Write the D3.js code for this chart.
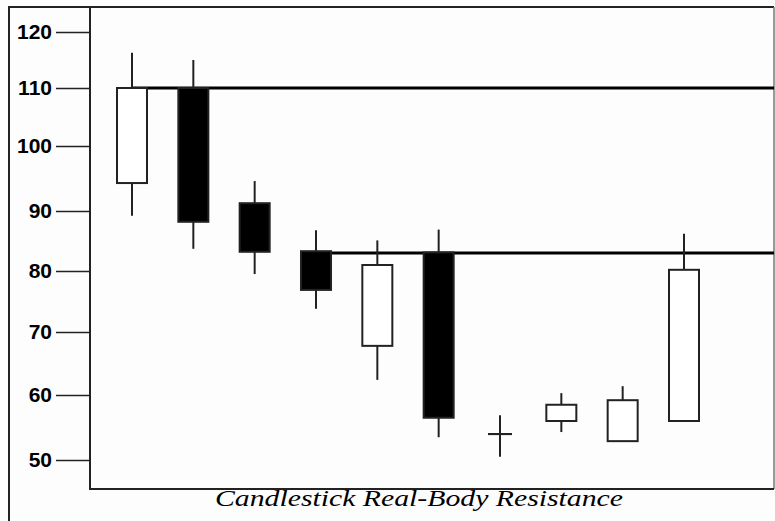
<!DOCTYPE html>
<html>
<head>
<meta charset="utf-8">
<script src="https://cdn.jsdelivr.net/npm/d3@7"></script>
<style>
  body { margin: 0; background: #fff; }
  svg { display: block; }
</style>
</head>
<body>
<div id="chart"></div>
<script>
// candle data
const days = [1, 2, 3, 4, 5, 6, 7, 8, 9, 10];
const opens  = [94.3, 110, 91.2, 83.3, 67.8, 83.1, 54.0, 56.0, 52.9, 56.0];
const highs  = [116.3, 115.0, 94.6, 86.8, 85.1, 86.9, 56.9, 60.3, 61.4, 86.2];
const lows   = [89.2, 83.7, 79.5, 73.8, 62.4, 53.5, 50.5, 54.3, 52.9, 56.0];
const closes = [110, 88.2, 83.2, 76.9, 81.0, 56.5, 54.0, 58.5, 59.2, 80.2];
const yTicks = [50, 60, 70, 80, 90, 100, 110, 120];
// tick positions in the original are hand-spaced, so the y scale is piecewise
const yTickPos = [460, 395, 332, 271, 211, 146, 88, 32];
// resistance lines: level and the candle they start from
const resistLevels = [110, 83];
const resistStart = [1, 4];
const title = "Candlestick Real-Body Resistance";

const width = 775, height = 521;
const plot = { left: 90, top: 7, right: 774, bottom: 489 };

const svg = d3.select("#chart").append("svg")
  .attr("width", width)
  .attr("height", height);

svg.append("rect")
  .attr("width", width).attr("height", height)
  .attr("fill", "#fdfdfd");

const x = d3.scalePoint()
  .domain(days)
  .range([132, 684]);

const y = d3.scaleLinear()
  .domain(yTicks)
  .range(yTickPos);

// outer frame
svg.append("path")
  .attr("d", `M9,${height} V7 H${plot.right}`)
  .attr("fill", "none")
  .attr("stroke", "#222")
  .attr("stroke-width", 2);
svg.append("path")
  .attr("d", `M${plot.right},7 V${plot.bottom}`)
  .attr("stroke", "#777")
  .attr("stroke-width", 1.5);

// y axis
const yAxis = svg.append("g")
  .attr("transform", `translate(${plot.left},0)`)
  .call(d3.axisLeft(y).tickValues(yTicks).tickSize(34).tickPadding(4).tickFormat(d3.format("d")));
yAxis.select(".domain").remove();
yAxis.selectAll(".tick line").attr("stroke", "#222").attr("stroke-width", 1.6);
yAxis.selectAll(".tick text")
  .attr("fill", "#000")
  .style("font-family", "Liberation Sans, Arial, sans-serif")
  .style("font-size", "21px")
  .style("font-weight", "bold");

// plot box left + bottom
svg.append("path")
  .attr("d", `M${plot.left},7 V${plot.bottom} H${plot.right}`)
  .attr("fill", "none")
  .attr("stroke", "#222")
  .attr("stroke-width", 2);

const candles = days.map((d, i) => ({
  day: d, open: opens[i], high: highs[i], low: lows[i], close: closes[i]
}));
const bodyW = 30;

// resistance lines
svg.selectAll(".resist")
  .data(resistLevels)
  .enter().append("line")
  .attr("class", "resist")
  .attr("x1", (d, i) => x(resistStart[i]))
  .attr("x2", plot.right)
  .attr("y1", d => y(d))
  .attr("y2", d => y(d))
  .attr("stroke", "#000")
  .attr("stroke-width", 3);

const g = svg.selectAll(".candle")
  .data(candles)
  .enter().append("g")
  .attr("class", "candle");

// wicks
g.append("line")
  .attr("x1", d => x(d.day))
  .attr("x2", d => x(d.day))
  .attr("y1", d => y(d.high))
  .attr("y2", d => y(d.low))
  .attr("stroke", "#222")
  .attr("stroke-width", 2);

// bodies
g.append("rect")
  .attr("x", d => x(d.day) - (d.open === d.close ? 11 : bodyW / 2))
  .attr("width", d => d.open === d.close ? 22 : bodyW)
  .attr("y", d => y(Math.max(d.open, d.close)))
  .attr("height", d => Math.max(0.1, y(Math.min(d.open, d.close)) - y(Math.max(d.open, d.close))))
  .attr("fill", d => d.close < d.open ? "#000" : "#fff")
  .attr("stroke", "#222")
  .attr("stroke-width", 2);

// caption
svg.append("text")
  .attr("x", 419)
  .attr("y", 506)
  .attr("text-anchor", "middle")
  .attr("textLength", 408)
  .attr("lengthAdjust", "spacingAndGlyphs")
  .style("font-family", "Liberation Serif, DejaVu Serif, serif")
  .style("font-style", "italic")
  .style("font-size", "24px")
  .text(title);
</script>
</body>
</html>
